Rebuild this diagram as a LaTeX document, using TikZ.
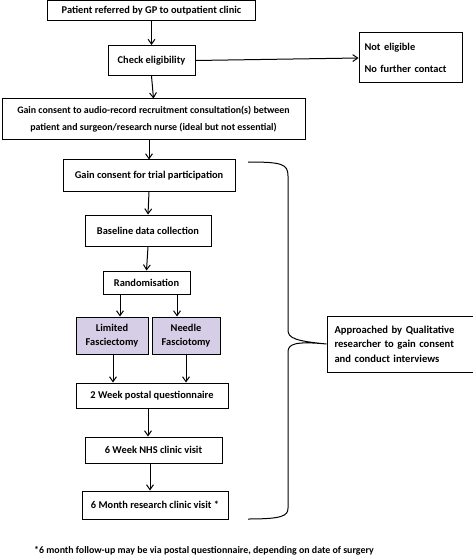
\documentclass[tikz,border=0pt]{standalone}
\usepackage{fontspec}
\setmainfont{Carlito}
\usetikzlibrary{arrows.meta,patterns}
\definecolor{shade}{RGB}{214,206,230}
\tikzset{
  box/.style={draw, line width=1pt, align=center, inner sep=0pt, font=\bfseries\fontsize{10.4}{14}\selectfont},
  arr/.style={line width=1pt, -{Straight Barb[angle=70:6pt]}},
  shaded/.style={box, fill=shade},
}
\begin{document}
\begin{tikzpicture}[x=1pt,y=-1pt]
\useasboundingbox (0,0) rectangle (473,556);
\node[box, minimum width=208pt, minimum height=20pt] (b1) at (151.5,10.5) {Patient referred by GP to outpatient clinic};
\node[box, minimum width=87pt, minimum height=30pt] (b2) at (151.5,60.5) {Check eligibility};
\node[box, minimum width=103pt, minimum height=50pt, align=left, text width=92pt] (ne) at (410.5,58) {Not eligible\\[8pt]No further contact};
\node[box, minimum width=303pt, minimum height=41pt, font=\bfseries\fontsize{9.9}{17}\selectfont] (b3) at (153.5,119.5) {Gain consent to audio-record recruitment consultation(s) between\\patient and surgeon/research nurse (ideal but not essential)};
\node[box, minimum width=172pt, minimum height=31pt] (b4) at (149,175.5) {Gain consent for trial participation};
\node[box, minimum width=126pt, minimum height=31pt] (b5) at (148,230.5) {Baseline data collection};
\node[box, minimum width=87pt, minimum height=23pt] (b6) at (146.5,282.5) {Randomisation};
\node[shaded, minimum width=72pt, minimum height=37pt] (b7) at (112,335.5) {Limited\\Fasciectomy};
\node[shaded, minimum width=68pt, minimum height=37pt] (b8) at (186,335.5) {Needle\\Fasciotomy};
\node[box, minimum width=152pt, minimum height=25pt] (b9) at (152,395.5) {2 Week postal questionnaire};
\node[box, minimum width=137pt, minimum height=26pt] (b10) at (153.5,450) {6 Week NHS clinic visit};
\node[box, minimum width=146pt, minimum height=28pt] (b11) at (155,505) {6 Month research clinic visit *};
\node[box, minimum width=146pt, minimum height=56pt, align=left, text width=131pt, font=\bfseries\fontsize{10.6}{14.5}\selectfont] (q) at (400,344) {Approached by Qualitative\\researcher to gain consent\\and conduct interviews};
\node[font=\bfseries\fontsize{9.9}{12}\selectfont, anchor=west, inner sep=0pt] (fn) at (34,551) {*6 month follow-up may be via postal questionnaire, depending on date of surgery};

\draw[arr] (b1.south) -- (b2.north);
\draw[arr] (b2.east) -- (ne.west);
\draw[arr] (b2.south) -- (b3.north);
\draw[arr] (b3.south -| b4.north) -- (b4.north);
\draw[arr] (b4.south) -- (b5.north);
\draw[arr] (b5.south) -- (b6.north);
\draw[arr] (b6.south -| 120,0) -- (b7.north -| 120,0);
\draw[arr] (b6.south -| 177,0) -- (b8.north -| 177,0);
\draw[arr] (b7.south -| 113,0) -- (b9.north -| 113,0);
\draw[arr] (b8.south -| 186,0) -- (b9.north -| 186,0);
\draw[arr] (b9.south -| 148,0) -- (b10.north -| 148,0);
\draw[arr] (b10.south -| 150,0) -- (b11.north -| 150,0);

\coordinate (bt) at (248,162);
\coordinate (bb) at (248,519);
\draw[line width=1pt] (bt) .. controls (282,162) and (288,164) .. (288,176)
  -- (288,330) .. controls (288,338) and (295,341) .. (q.west)
  .. controls (295,341) and (288,344) .. (288,352)
  -- (288,508) .. controls (288,516) and (282,519) .. (bb);
\end{tikzpicture}
\end{document}
